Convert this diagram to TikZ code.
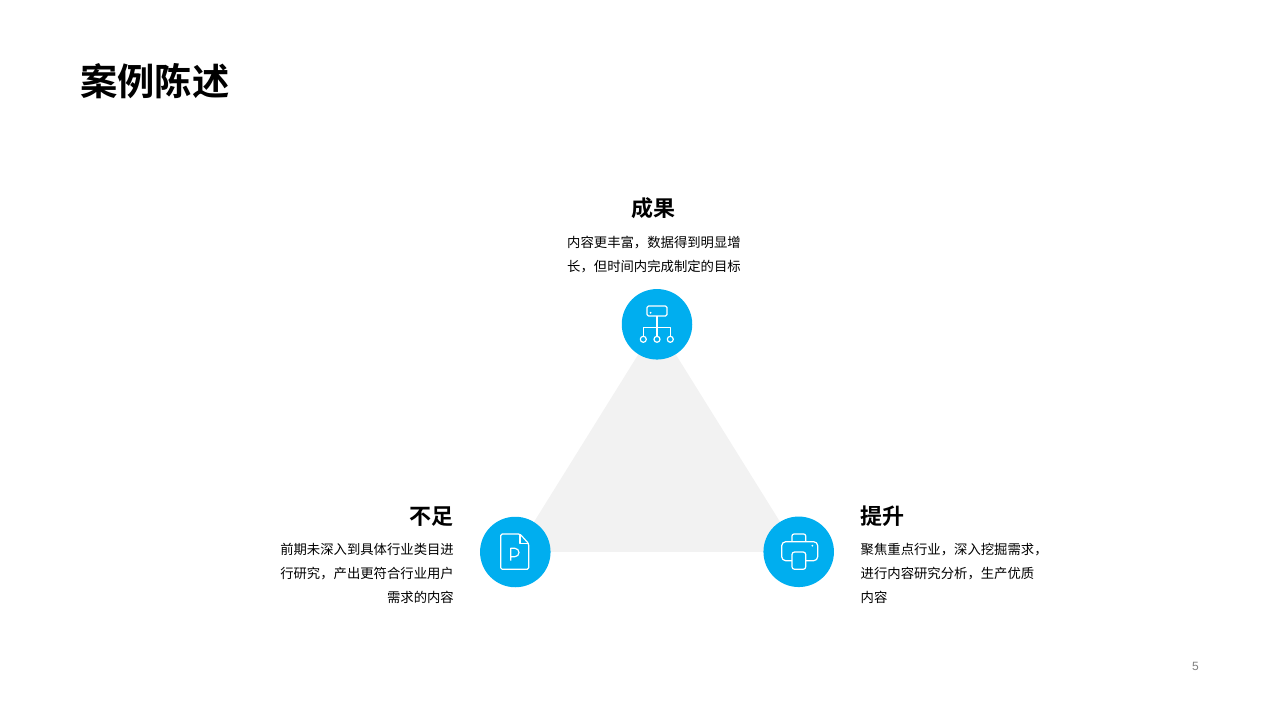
\documentclass[tikz,border=0pt]{standalone}
\usepackage{fontspec}
\setmainfont{Noto Sans CJK SC}
\newfontfamily\cjkbold{Noto Sans CJK SC Bold}
\setsansfont{Liberation Sans}
\usetikzlibrary{positioning}
\definecolor{badgeblue}{HTML}{00AEEF}
\definecolor{trigray}{HTML}{F2F2F2}
\definecolor{pagegray}{HTML}{7F7F7F}
\tikzset{
  badge/.style={circle, fill=badgeblue, minimum size=70.5pt, inner sep=0pt},
  glyph/.style={draw=white, line width=1.2pt, line join=round},
  heading/.style={font=\cjkbold\fontsize{22}{26}\selectfont, inner sep=0pt},
  blurb/.style={font=\fontsize{13.35}{24}\selectfont, inner sep=0pt}
}
\begin{document}
\begin{tikzpicture}[x=1pt, y=-1pt]
\useasboundingbox (0,0) rectangle (1280,720);
\node[anchor=west, inner sep=0pt, font=\cjkbold\fontsize{37.3}{40}\selectfont] (title) at (80,81) {案例陈述};
\coordinate (top c) at (657,324.3);
\coordinate (left c) at (515.3,552);
\coordinate (right c) at (798.7,551.8);
\fill[trigray] (top c) -- (left c) -- (right c) -- cycle;
\node[badge] (top) at (top c) {};
\node[badge] (left) at (left c) {};
\node[badge] (right) at (right c) {};
% top icon
\begin{scope}[shift={(top c)}]
\draw[glyph, rounded corners=1.5pt] (-10,-18.3) rectangle (10,-8.3);
\fill[white] (-6.4,-11.5) circle (1pt);
\draw[glyph] (0,-8.3) -- (0,12);
\draw[glyph] (-13.7,12) -- (-13.7,3) -- (13.3,3) -- (13.3,12);
\foreach \x in {-13.7,0,13.3}
\draw[glyph] (\x,15) circle (3pt);
\end{scope}
% left icon
\begin{scope}[shift={(left c)}]
\draw[glyph, rounded corners=1.5pt] (4.7,-18) -- (-14.6,-18) -- (-14.6,17.3) -- (13.4,17.3) -- (13.4,-8.3) -- cycle;
\draw[glyph] (4.7,-18) -- (4.7,-8.3) -- (13.4,-8.3);
\draw[glyph] (-4.6,8.7) -- (-4.6,-3.7) -- (-0.5,-3.7) arc (-90:90:4.2) -- (-4.6,4.7);
\end{scope}
% right icon
\begin{scope}[shift={(right c)}]
\draw[glyph, rounded corners=2pt] (-6.7,-10.1) -- (-6.7,-17.8) -- (7,-17.8) -- (7,-10.1);
\draw[glyph, rounded corners=4pt] (-6.7,8.9) -- (-17,8.9) -- (-17,-10.1) -- (19,-10.1) -- (19,8.9) -- (7,8.9);
\draw[glyph, rounded corners=2.5pt] (-6.7,0.2) rectangle (7,17.5);
\fill[white] (13.6,-6.1) circle (1pt);
\end{scope}
% texts
\node[heading] (top head) at (653,208) {成果};
\node[blurb, align=center, below=17pt of top head, xshift=1pt] (top text) {内容更丰富，数据得到明显增\\长，但时间内完成制定的目标};
\node[heading, anchor=east] (left head) at (454,516.5) {不足};
\node[blurb, align=right, anchor=north east, below left=16.5pt and 0pt of left head.south east] (left text) {前期未深入到具体行业类目进\\行研究，产出更符合行业用户\\需求的内容};
\node[heading, anchor=west] (right head) at (860.5,516.5) {提升};
\node[blurb, align=left, anchor=north west, below right=16pt and 0pt of right head.south west] (right text) {聚焦重点行业，深入挖掘需求，\\进行内容研究分析，生产优质\\内容};
\node[font=\sffamily\fontsize{12}{14}\selectfont, text=pagegray, inner sep=0pt] (page) at (1195.5,666) {5};
\end{tikzpicture}
\end{document}
